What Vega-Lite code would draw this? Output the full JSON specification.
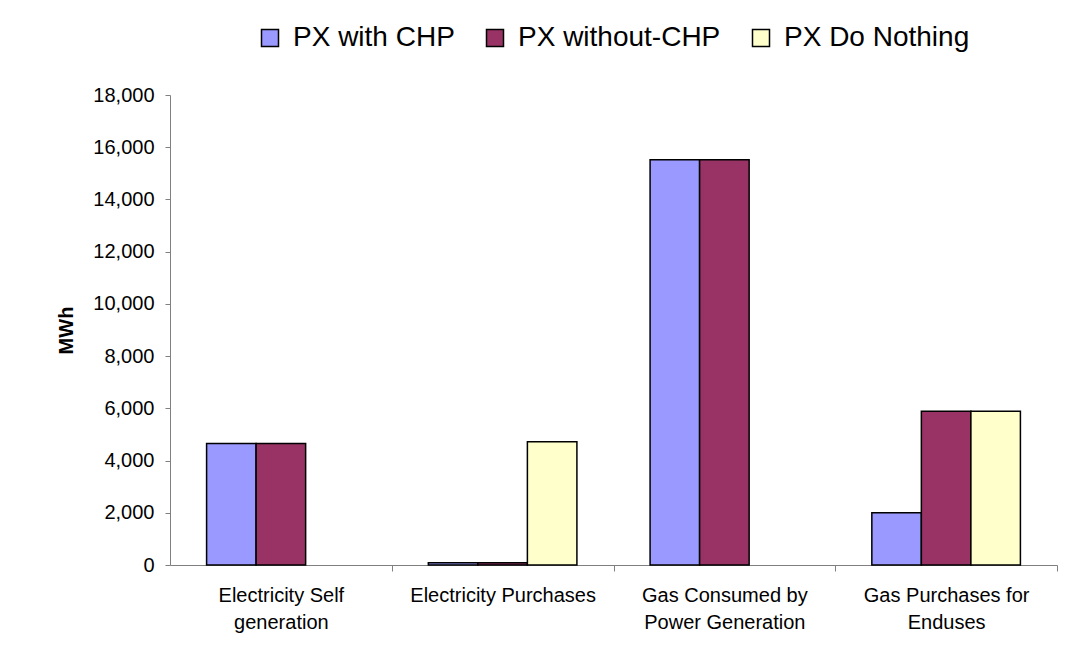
{
  "$schema": "https://vega.github.io/schema/vega-lite/v6.json",
  "width": 887,
  "height": 470,
  "autosize": {"type": "none"},
  "padding": {"left": 170, "top": 95, "right": 22, "bottom": 82},
  "background": "white",
  "config": {"view": {"stroke": null}, "font": "Liberation Sans"},
  "data": {
    "values": [
      {"category": "Electricity Self generation", "series": "PX with CHP", "mwh": 4650},
      {"category": "Electricity Self generation", "series": "PX without-CHP", "mwh": 4650},
      {"category": "Electricity Purchases", "series": "PX with CHP", "mwh": 90},
      {"category": "Electricity Purchases", "series": "PX without-CHP", "mwh": 90},
      {"category": "Electricity Purchases", "series": "PX Do Nothing", "mwh": 4720},
      {"category": "Gas Consumed by Power Generation", "series": "PX with CHP", "mwh": 15520},
      {"category": "Gas Consumed by Power Generation", "series": "PX without-CHP", "mwh": 15520},
      {"category": "Gas Purchases for Enduses", "series": "PX with CHP", "mwh": 2000},
      {"category": "Gas Purchases for Enduses", "series": "PX without-CHP", "mwh": 5890},
      {"category": "Gas Purchases for Enduses", "series": "PX Do Nothing", "mwh": 5890}
    ]
  },
  "mark": {"type": "bar", "stroke": "black", "strokeWidth": 1.5},
  "encoding": {
    "x": {
      "field": "category",
      "type": "nominal",
      "sort": ["Electricity Self generation", "Electricity Purchases", "Gas Consumed by Power Generation", "Gas Purchases for Enduses"],
      "scale": {"paddingInner": 0.33, "paddingOuter": 0.165},
      "axis": {
        "title": null,
        "labelAngle": 0,
        "labelFontSize": 20,
        "labelColor": "black",
        "labelLineHeight": 27,
        "labelPadding": 14,
        "labelLimit": 400,
        "tickSize": 6,
        "tickColor": "#808080",
        "domainColor": "#808080",
        "tickOffset": 110.875,
        "labelOffset": -110.875,
        "labelExpr": "datum.value == 'Electricity Self generation' ? ['Electricity Self', 'generation'] : datum.value == 'Gas Consumed by Power Generation' ? ['Gas Consumed by', 'Power Generation'] : datum.value == 'Gas Purchases for Enduses' ? ['Gas Purchases for', 'Enduses'] : datum.value"
      }
    },
    "xOffset": {
      "field": "series",
      "type": "nominal",
      "sort": ["PX with CHP", "PX without-CHP", "PX Do Nothing"],
      "scale": {"paddingInner": 0, "paddingOuter": 0}
    },
    "y": {
      "field": "mwh",
      "type": "quantitative",
      "scale": {"domain": [0, 18000], "nice": false},
      "axis": {
        "title": "MWh",
        "titleFontSize": 20,
        "titleFontWeight": "bold",
        "titleColor": "black",
        "titleX": -98,
        "titleY": 235,
        "titleAngle": 270,
        "titleBaseline": "alphabetic",
        "titleAlign": "center",
        "labelFontSize": 20,
        "labelColor": "black",
        "labelPadding": 11,
        "tickSize": 5,
        "tickColor": "#808080",
        "domainColor": "#808080",
        "values": [0, 2000, 4000, 6000, 8000, 10000, 12000, 14000, 16000, 18000],
        "format": ",d",
        "grid": false
      }
    },
    "color": {
      "field": "series",
      "type": "nominal",
      "sort": ["PX with CHP", "PX without-CHP", "PX Do Nothing"],
      "scale": {"domain": ["PX with CHP", "PX without-CHP", "PX Do Nothing"], "range": ["#9999FF", "#993366", "#FFFFCC"]},
      "legend": {
        "orient": "none",
        "legendX": 86,
        "legendY": -71,
        "direction": "horizontal",
        "title": null,
        "labelFontSize": 28,
        "labelColor": "black",
        "labelLimit": 400,
        "symbolType": "square",
        "symbolSize": 289,
        "symbolStrokeColor": "black",
        "symbolStrokeWidth": 1.5,
        "labelOffset": 9,
        "columnPadding": 26,
        "padding": 0
      }
    }
  }
}
